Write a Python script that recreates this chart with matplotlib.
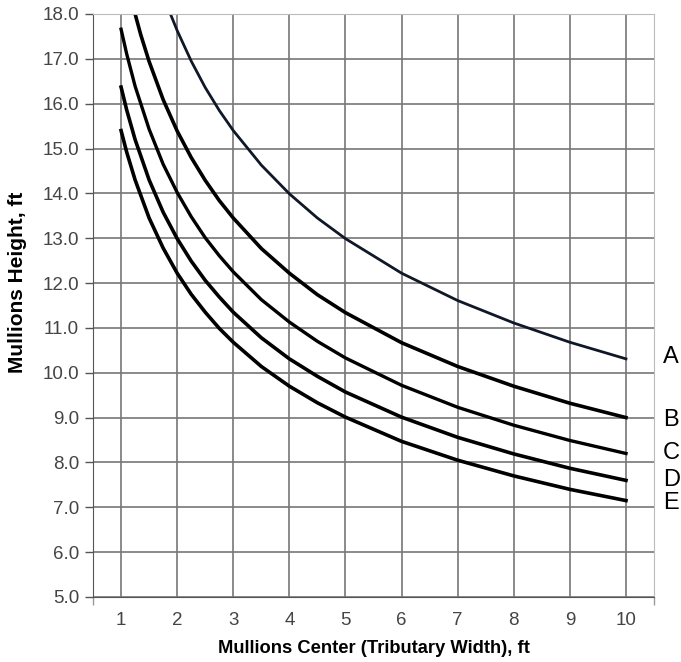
import matplotlib.pyplot as plt

plt.rcParams['font.family'] = ['Liberation Sans', 'DejaVu Sans']

# Mullions center (tributary width), ft
x_a = [1.88, 2.0, 2.25, 2.5, 2.75, 3.0, 3.5, 4.0, 4.5, 5.0, 6.0, 7.0, 8.0, 9.0, 10.0]
x_b = [1.25, 1.35, 1.5, 1.75, 2.0, 2.25, 2.5, 2.75, 3.0, 3.5, 4.0, 4.5, 5.0, 6.0, 7.0, 8.0, 9.0, 10.0]
x_cde = [1.0, 1.1, 1.25, 1.5, 1.75, 2.0, 2.25, 2.5, 2.75, 3.0, 3.5, 4.0, 4.5, 5.0, 6.0, 7.0, 8.0, 9.0, 10.0]

# Mullions height, ft
h_a = [18.0, 17.63, 16.95, 16.36, 15.85, 15.40, 14.63, 13.99, 13.45, 12.99, 12.22, 11.61, 11.11, 10.68, 10.31]
h_b = [18.0, 17.54, 16.94, 16.09, 15.39, 14.80, 14.29, 13.84, 13.45, 12.77, 12.22, 11.74, 11.34, 10.67, 10.14, 9.70, 9.32, 9.0]
h_c = [17.66, 17.11, 16.39, 15.43, 14.65, 14.02, 13.48, 13.01, 12.61, 12.25, 11.63, 11.13, 10.70, 10.33, 9.72, 9.23, 8.83, 8.49, 8.2]
h_d = [16.37, 15.86, 15.20, 14.30, 13.58, 12.99, 12.49, 12.06, 11.69, 11.35, 10.78, 10.31, 9.92, 9.57, 9.01, 8.56, 8.19, 7.87, 7.6]
h_e = [15.40, 14.92, 14.30, 13.45, 12.78, 12.22, 11.75, 11.35, 10.99, 10.68, 10.14, 9.70, 9.33, 9.01, 8.47, 8.05, 7.70, 7.40, 7.15]

curve_names = ['A', 'B', 'C', 'D', 'E']
label_y = [10.35, 8.95, 8.21, 7.61, 7.10]

xticks = list(range(1, 11))
yticks = [5.0 + i for i in range(14)]

fig = plt.figure(figsize=(6.81, 6.62), dpi=100)
ax = fig.add_axes([0.1366, 0.0982, 0.8238, 0.8807])

ax.set_xlim(0.5, 10.5)
ax.set_ylim(5.0, 18.0)
ax.set_xticks(xticks)
ax.set_xticks([0.5, 10.5], minor=True)
ax.set_yticks(yticks)
ax.set_yticklabels(['%.1f' % v for v in yticks])
ax.grid(True, which='major', color='#777777', linewidth=1.2)
ax.set_axisbelow(True)

ax.plot(x_a, h_a, color='#101828', linewidth=2.0)
ax.plot(x_b, h_b, color='black', linewidth=2.6)
ax.plot(x_cde, h_c, color='black', linewidth=2.4)
ax.plot(x_cde, h_d, color='black', linewidth=2.6)
ax.plot(x_cde, h_e, color='black', linewidth=2.6)

for name, yv in zip(curve_names, label_y):
    ax.text(10.66, yv, name, fontsize=17, va='center', ha='left', clip_on=False)

for side in ['top', 'right']:
    ax.spines[side].set_color('#bbbbbb')
ax.spines['left'].set_color('#555555')
ax.spines['bottom'].set_color('#555555')

ax.tick_params(axis='y', length=6, width=1, color='#555555', pad=4,
               labelsize=13.5, labelcolor='#444444')
ax.tick_params(axis='x', which='major', length=0, pad=11, labelsize=13.5,
               labelcolor='#444444')
ax.tick_params(axis='x', which='minor', length=6, width=1, color='#999999')

ax.set_xlabel('Mullions Center (Tributary Width), ft', fontsize=13.2,
              fontweight='bold', va='center')
ax.xaxis.set_label_coords(0.5, -0.0875)
ax.set_ylabel('Mullions Height, ft', fontsize=15, fontweight='bold', va='center')
ax.yaxis.set_label_coords(-0.134, 0.539)

fig.savefig('out.png', dpi=100)
